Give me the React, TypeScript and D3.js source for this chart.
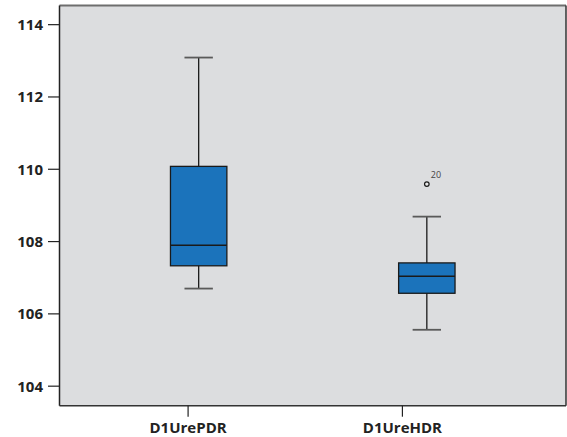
import React from "react";
import * as d3 from "d3";

const categories = ["D1UrePDR", "D1UreHDR"];
const whiskerLow = [106.7, 105.56];
const q1 = [107.33, 106.57];
const medians = [107.9, 107.04];
const q3 = [110.08, 107.41];
const whiskerHigh = [113.09, 108.69];
const outlierCategory = ["D1UreHDR"];
const outlierValues = [109.59];
const outlierLabels = ["20"];
const yTicks = [104, 106, 108, 110, 112, 114];

const W = 567;
const H = 437;
const left = 59.5;
const right = 566;
const top = 5.5;
const bottom = 405.7;

export default function App() {
  const y = d3.scaleLinear().domain([103.46, 114.53]).range([bottom, top]);
  const xBox = d3.scalePoint<string>().domain(categories).range([left, right]).padding(0.61);
  const xAxis = d3.scalePoint<string>().domain(categories).range([left, right - 35]).padding(0.6);
  const boxW = 56.4;
  const capW = 28.4;
  const font = "'Open Sans', 'Noto Sans', sans-serif";
  return (
    <svg width={W} height={H} style={{ position: "absolute", left: 0, top: 0 }}>
      <rect x={left} y={top} width={right - left} height={bottom - top} fill="#dcdddf" />
      <line x1={left} x2={right} y1={top} y2={top} stroke="#6e6e6e" strokeWidth={2} />
      <line x1={right} x2={right} y1={top} y2={bottom} stroke="#333" strokeWidth={1.5} />
      <line x1={left} x2={right} y1={bottom} y2={bottom} stroke="#333" strokeWidth={1.5} />
      <line x1={left} x2={left} y1={top} y2={bottom} stroke="#222" strokeWidth={1.5} />
      {yTicks.map((t) => (
        <g key={t}>
          <line x1={48} x2={left} y1={y(t)} y2={y(t)} stroke="#222" strokeWidth={1.2} />
          <text x={43} y={y(t)} dy="0.36em" textAnchor="end" fontFamily={font} fontWeight="bold" fontSize={15} fill="#222">
            {t}
          </text>
        </g>
      ))}
      {categories.map((c) => (
        <g key={c}>
          <line x1={xAxis(c)} x2={xAxis(c)} y1={bottom} y2={bottom + 11} stroke="#222" strokeWidth={1.2} />
          <text x={xAxis(c)} y={bottom + 27} textAnchor="middle" fontFamily={font} fontWeight="bold" fontSize={15} fill="#222">
            {c}
          </text>
        </g>
      ))}
      {categories.map((c, i) => {
        const cx = xBox(c)!;
        return (
          <g key={c}>
            <line x1={cx} x2={cx} y1={y(whiskerHigh[i])} y2={y(q3[i])} stroke="#1a1a1a" strokeWidth={1.3} />
            <line x1={cx} x2={cx} y1={y(q1[i])} y2={y(whiskerLow[i])} stroke="#1a1a1a" strokeWidth={1.3} />
            <line x1={cx - capW / 2} x2={cx + capW / 2} y1={y(whiskerHigh[i])} y2={y(whiskerHigh[i])} stroke="#5a5a5a" strokeWidth={1.8} />
            <line x1={cx - capW / 2} x2={cx + capW / 2} y1={y(whiskerLow[i])} y2={y(whiskerLow[i])} stroke="#5a5a5a" strokeWidth={1.8} />
            <rect x={cx - boxW / 2} y={y(q3[i])} width={boxW} height={y(q1[i]) - y(q3[i])} fill="#1b73bb" stroke="#1a1a1a" strokeWidth={1.3} />
            <line x1={cx - boxW / 2} x2={cx + boxW / 2} y1={y(medians[i])} y2={y(medians[i])} stroke="#1a1a1a" strokeWidth={1.5} />
          </g>
        );
      })}
      {outlierValues.map((v, i) => {
        const cx = xBox(outlierCategory[i])!;
        return (
          <g key={i}>
            <circle cx={cx} cy={y(v)} r={2.3} fill="#e8e8e8" stroke="#1a1a1a" strokeWidth={1.2} />
            <text x={cx + 4} y={y(v) - 6} fontFamily={font} fontSize={9} fill="#444">
              {outlierLabels[i]}
            </text>
          </g>
        );
      })}
    </svg>
  );
}
